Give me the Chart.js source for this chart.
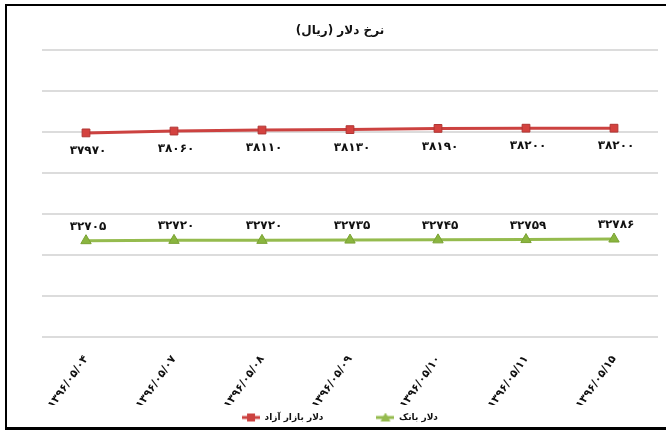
<!DOCTYPE html>
<html>
<head>
<meta charset="utf-8">
<script src="https://cdn.jsdelivr.net/npm/chart.js@4/dist/chart.umd.min.js"></script>
<style>
  body { margin: 0; background: #fff; }
  #wrap { position: relative; width: 666px; height: 432px; }
  #frame {
    position: absolute; left: 5px; top: 4px; right: 0; bottom: 2px;
    border-top: 2px solid #000; border-left: 2px solid #000; border-bottom: 3px solid #000;
    pointer-events: none;
  }
</style>
</head>
<body>
<div id="wrap">
  <canvas id="chart" width="666" height="432"></canvas>
  <div id="frame"></div>
</div>
<script>
// dates (Solar Hijri) shown on the x axis
const dates = ['۱۳۹۶/۰۵/۰۴', '۱۳۹۶/۰۵/۰۷', '۱۳۹۶/۰۵/۰۸', '۱۳۹۶/۰۵/۰۹', '۱۳۹۶/۰۵/۱۰', '۱۳۹۶/۰۵/۱۱', '۱۳۹۶/۰۵/۱۵'];

// free market dollar (rial)
const freeMarket = [37970, 38060, 38110, 38130, 38190, 38200, 38200];
// bank dollar (rial)
const bankRate = [32705, 32720, 32720, 32735, 32745, 32759, 32786];

const seriesNames = ['دلار بازار آزاد', 'دلار بانک'];
const chartTitle = 'نرخ دلار (ریال)';

const faDigits = '۰۱۲۳۴۵۶۷۸۹';
const fa = n => String(n).replace(/\d/g, d => faDigits[d]);

const FONT = "'DejaVu Sans', sans-serif";
const RED = '#cc4240';
const GREEN = '#95bb4e';

// little line+marker picture for the legend
function legendIcon(color, shape) {
  const c = document.createElement('canvas');
  c.width = 18; c.height = 10;
  const g = c.getContext('2d');
  g.strokeStyle = color; g.lineWidth = 3;
  g.beginPath(); g.moveTo(0, 5); g.lineTo(18, 5); g.stroke();
  g.fillStyle = color;
  if (shape === 'rect') {
    g.fillRect(5, 1, 8, 8);
  } else {
    g.beginPath(); g.moveTo(9, 0); g.lineTo(14, 9); g.lineTo(4, 9); g.closePath(); g.fill();
  }
  return c;
}

// value labels: red below the line, green above
const valueLabels = {
  id: 'valueLabels',
  afterDatasetsDraw(chart) {
    const ctx = chart.ctx;
    ctx.save();
    ctx.font = 'bold 12px ' + FONT;
    ctx.fillStyle = '#111';
    ctx.textAlign = 'center';
    ctx.textBaseline = 'middle';
    chart.data.datasets.forEach((ds, i) => {
      const meta = chart.getDatasetMeta(i);
      meta.data.forEach((pt, j) => {
        const dy = i === 0 ? 18 : -14;
        ctx.fillText(fa(ds.data[j]), pt.x + 2, pt.y + dy);
      });
    });
    ctx.restore();
  }
};

new Chart(document.getElementById('chart'), {
  type: 'line',
  data: {
    labels: dates,
    datasets: [
      {
        label: seriesNames[0],
        data: freeMarket,
        borderColor: RED,
        backgroundColor: '#d4423f',
        pointBorderColor: '#b03533',
        borderWidth: 3,
        pointStyle: 'rect',
        pointRadius: 5.5,
        pointBorderWidth: 1
      },
      {
        label: seriesNames[1],
        data: bankRate,
        borderColor: GREEN,
        backgroundColor: '#8ab53f',
        pointBorderColor: '#7aa233',
        borderWidth: 3,
        pointStyle: 'triangle',
        pointRadius: 6,
        pointBorderWidth: 1
      }
    ]
  },
  options: {
    responsive: false,
    animation: false,
    layout: { padding: { top: 24, left: 22, right: 8, bottom: 0 } },
    scales: {
      x: {
        offset: true,
        grid: { display: false },
        border: { display: false },
        ticks: {
          minRotation: 55,
          maxRotation: 55,
          padding: 8,
          color: '#111',
          font: { family: FONT, size: 11, weight: 'bold' }
        },
        afterFit(axis) { axis.height = 68; }
      },
      y: {
        min: 28000,
        max: 42000,
        ticks: { stepSize: 2000, display: false },
        grid: { color: '#dcdcdc', lineWidth: 2, drawTicks: false },
        border: { display: false },
        afterFit(axis) { axis.width = 20; }
      }
    },
    plugins: {
      title: {
        display: true,
        text: chartTitle + '\u200F',
        color: '#111',
        font: { family: FONT, size: 12, weight: 'bold' },
        padding: { top: 0, bottom: 12 }
      },
      legend: {
        position: 'bottom',
        labels: {
          usePointStyle: true,
          pointStyleWidth: 18,
          color: '#111',
          font: { family: FONT, size: 9, weight: 'bold' },
          padding: 8,
          generateLabels(chart) {
            const items = Chart.defaults.plugins.legend.labels.generateLabels(chart);
            items.forEach((it, i) => {
              it.pointStyle = legendIcon(i === 0 ? RED : GREEN, i === 0 ? 'rect' : 'tri');
              if (i === 0) it.text = it.text + '\u2003\u2003\u2003\u2003\u2003';
            });
            return items;
          }
        }
      },
      tooltip: { enabled: false }
    }
  },
  plugins: [valueLabels]
});
</script>
</body>
</html>
